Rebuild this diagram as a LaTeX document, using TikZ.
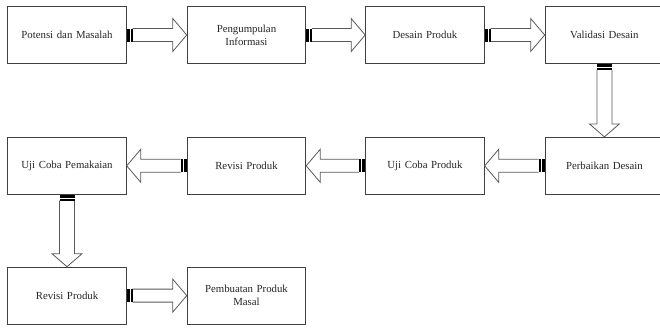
\documentclass[tikz,border=0pt]{standalone}
\usepackage{fontspec}
\setmainfont{Liberation Serif}
\usetikzlibrary{positioning,calc}

% horizontal hollow arrow: #1 = 1 (right) or -1 (left), from #2 to #3
\newcommand{\harrow}[3]{%
  \draw[hollowarrow] ($(#2)+({#1*6},-6.5)$) -- ($(#3)+({#1*-14},-6.5)$)
    -- ($(#3)+({#1*-14},-16.5)$) -- (#3) -- ($(#3)+({#1*-14},16.5)$)
    -- ($(#3)+({#1*-14},6.5)$) -- ($(#2)+({#1*6},6.5)$);
  \fill[black] ($(#2)+(0,-6.5)$) rectangle ($(#2)+({#1*6},6.5)$);
  \draw[white,line width=0.8pt] ($(#2)+({#1*3.5},-6.5)$) -- ($(#2)+({#1*3.5},6.5)$);
}
% vertical hollow arrow, downwards from #1 to #2
\newcommand{\varrow}[2]{%
  \draw[hollowarrow] ($(#1)+(-7.5,6)$) -- ($(#2)+(-7.5,-13)$)
    -- ($(#2)+(-15,-13)$) -- (#2) -- ($(#2)+(15,-13)$)
    -- ($(#2)+(7.5,-13)$) -- ($(#1)+(7.5,6)$);
  \fill[black] ($(#1)+(-7.5,0)$) rectangle ($(#1)+(7.5,6)$);
  \draw[white,line width=0.8pt] ($(#1)+(-7.5,3.5)$) -- ($(#1)+(7.5,3.5)$);
}

\begin{document}
\begin{tikzpicture}[x=1pt,y=-1pt,
    stagebox/.style={rectangle, draw=black!75, thick, fill=white, minimum width=118pt, minimum height=57pt,
      align=center, text width=112pt, font=\fontsize{10.8}{13}\selectfont, text=black!85},
    hollowarrow/.style={draw=black!65, thick, fill=white, line join=miter}]

  \useasboundingbox (0,0) rectangle (660,327);

  \node[stagebox] (potensi) at (67,35) {Potensi dan Masalah};
  \node[stagebox] (informasi) [right=60pt of potensi] {Pengumpulan\\Informasi};
  \node[stagebox] (desain) [right=59pt of informasi] {Desain Produk};
  \node[stagebox, minimum width=116pt] (validasi) [right=60pt of desain] {Validasi Desain};

  \node[stagebox, minimum width=116pt] (perbaikan) [below=73pt of validasi] {Perbaikan Desain};
  \node[stagebox] (ujiproduk) [below=73pt of desain] {Uji Coba Produk};
  \node[stagebox] (revisi1) [below=73pt of informasi] {Revisi Produk};
  \node[stagebox] (ujipakai) [below=73pt of potensi] {Uji Coba Pemakaian};

  \node[stagebox] (revisi2) [below=72pt of ujipakai] {Revisi Produk};
  \node[stagebox] (masal) [right=60pt of revisi2] {Pembuatan Produk\\Masal};

  \harrow{1}{potensi.east}{informasi.west}
  \harrow{1}{informasi.east}{desain.west}
  \harrow{1}{desain.east}{validasi.west}
  \varrow{validasi.south}{perbaikan.north}
  \harrow{-1}{perbaikan.west}{ujiproduk.east}
  \harrow{-1}{ujiproduk.west}{revisi1.east}
  \harrow{-1}{revisi1.west}{ujipakai.east}
  \varrow{ujipakai.south}{revisi2.north}
  \harrow{1}{revisi2.east}{masal.west}

\end{tikzpicture}
\end{document}
